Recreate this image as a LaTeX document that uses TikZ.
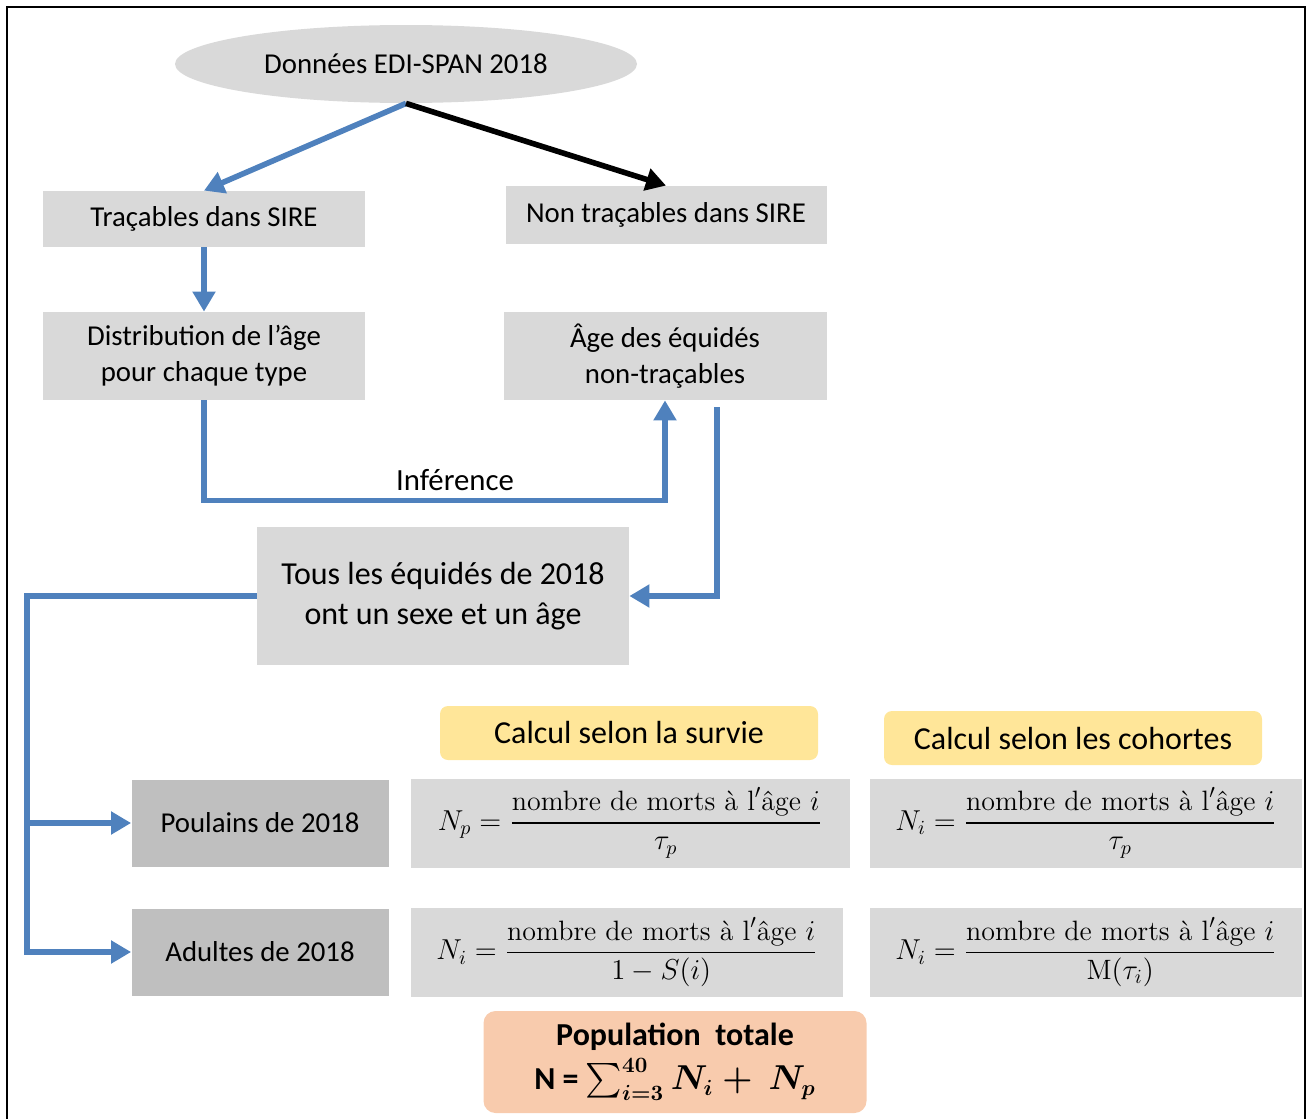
\documentclass[tikz,border=0pt]{standalone}
\usepackage{amsmath}
\usepackage{fontspec}
\newfontfamily\calibri{Carlito}
\usetikzlibrary{shapes.geometric,arrows.meta}

\definecolor{boxgrey}{RGB}{217,217,217}
\definecolor{darkgrey}{RGB}{191,191,191}
\definecolor{calcyellow}{RGB}{255,230,153}
\definecolor{totalpeach}{RGB}{248,203,173}
\definecolor{flowblue}{RGB}{79,129,189}

\begin{document}
\begin{tikzpicture}[x=0.5pt, y=-0.5pt, font=\calibri\fontsize{14.4}{18}\selectfont]
    \tikzset{box/.style={fill=boxgrey, inner sep=0pt, align=center},
             darkbox/.style={box, fill=darkgrey},
             calcbox/.style={fill=calcyellow, rounded corners=4pt, inner sep=0pt,
                             minimum width=189pt, minimum height=27pt,
                             font=\calibri\fontsize{16}{19}\selectfont},
             formula/.style={box, minimum height=44.5pt, font=\fontsize{14}{17}\selectfont},
             flow/.style={draw=flowblue, line width=2.8pt, -{Triangle[width=11pt,length=10pt]}}};

    \useasboundingbox (0,0) rectangle (1307,1119);
    \draw[line width=1.2pt] (7,1119) -- (7,7) -- (1305,7) -- (1305,1119);

    % Source
    \node[ellipse, fill=boxgrey, inner sep=0pt, minimum width=231pt, minimum height=39pt]
      (edi) at (406,64) {Données EDI-SPAN 2018};

    % Level 1
    \node[box, minimum width=161pt, minimum height=28pt] (trac) at (204,219) {Traçables dans SIRE};
    \node[box, minimum width=160.5pt, minimum height=29pt] (nontrac) at (666,215) {Non traçables dans SIRE};

    % Level 2
    \node[box, minimum width=161pt, minimum height=44pt] (distr) at (204,356) {Distribution de l’âge\\pour chaque type};
    \node[box, minimum width=161.5pt, minimum height=44pt] (age) at (665,356) {Âge des équidés\\non-traçables};

    % Level 3
    \node[box, minimum width=186pt, minimum height=69pt, font=\calibri\fontsize{16}{20}\selectfont]
      (tous) at (443,596) {Tous les équidés de 2018\\ont un sexe et un âge};

    % Groups
    \node[darkbox, minimum width=128.5pt, minimum height=43.5pt] (poul) at (260,823) {Poulains de 2018};
    \node[darkbox, minimum width=128.5pt, minimum height=43.5pt] (adult) at (260,952) {Adultes de 2018};

    % Methods
    \node[calcbox] (survie) at (629,733) {Calcul selon la survie};
    \node[calcbox] (cohorte) at (1073,738) {Calcul selon les cohortes};

    \node[formula, minimum width=219.5pt] (fpsurv) at (630,823)
      {$N_p = \dfrac{\textrm{nombre de morts à l}'\textrm{âge}\ i}{\tau_p}$};
    \node[formula, minimum width=216pt] (fpcoh) at (1086,823)
      {$N_i = \dfrac{\textrm{nombre de morts à l}'\textrm{âge}\ i}{\tau_p}$};
    \node[formula, minimum width=216pt] (fisurv) at (627,952)
      {$N_i = \dfrac{\textrm{nombre de morts à l}'\textrm{âge}\ i}{1 - S(i)}$};
    \node[formula, minimum width=216pt] (ficoh) at (1086,952)
      {$N_i = \dfrac{\textrm{nombre de morts à l}'\textrm{âge}\ i}{\mathrm{M}(\tau_i)}$};

    % Total
    \node[fill=totalpeach, rounded corners=6pt, inner sep=0pt, align=center,
          minimum width=191.5pt, minimum height=51pt, font=\calibri\fontsize{16}{19}\selectfont]
      (total) at (675,1062) {\bfseries Population\ \ totale\\[3pt]
      {\bfseries N =} {\boldmath$\sum_{i=3}^{40} N_i + \ N_p$}};

    % Edges
    \draw[flow] (edi.south) -- (trac.north);
    \draw[line width=2.8pt, -{Triangle[width=11pt,length=10pt]}] (edi.south) -- (nontrac.north);
    \draw[flow] (trac) -- (distr);
    \draw[flow] (distr.south) -- ++(0,100) -| (age.south);
    \node (infer) at (455,480) {\fontsize{15.4}{18}\selectfont Inférence};

    \coordinate (agedrop) at (717,407);
    \draw[flow] (agedrop) |- (tous.east);

    \coordinate (trunk) at (27,952);
    \draw[flow] (tous.west) -| (trunk) -- (adult.west);
    \draw[flow] (trunk |- poul.west) -- (poul.west);
  \end{tikzpicture}
\end{document}
